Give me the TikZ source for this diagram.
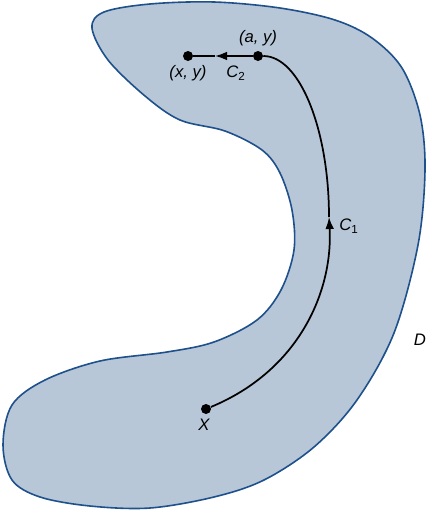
\documentclass[tikz,border=0pt]{standalone}
\usepackage{fontspec}
\setmainfont{Liberation Sans}
\usetikzlibrary{arrows.meta}
\definecolor{regionfill}{RGB}{183,199,216}
\definecolor{regionline}{RGB}{30,80,140}
\tikzset{
	dot/.style={circle, fill=black, inner sep=0pt, minimum size=7.5pt},
	lbl/.style={font=\fontsize{12.5}{14}\selectfont\itshape, inner sep=1pt},
	path/.style={line width=1.3pt},
	tip/.style={-{Latex[length=9pt,width=6.5pt]}}
}
\begin{document}
\begin{tikzpicture}[x=0.75pt, y=-0.75pt]
	\useasboundingbox (0,0) rectangle (428,511);
	\draw[fill=regionfill, draw=regionline, line width=1.2pt] plot[smooth cycle, tension=0.55] coordinates {
		(92,28) (104,12) (150,4) (214,2) (280,8) (335,20) (372,38) (402,68)
		(420,115) (425,170) (418,245) (394,333) (357,400) (314,447)
		(264,480) (214,497) (150,508) (90,506) (40,497) (12,480)
		(3,445) (12,405) (45,380) (100,361) (167,352) (214,342)
		(257,320) (281,290) (294,250) (292,210) (280,173) (262,150)
		(225,131) (180,120) (145,96) (108,60)};

	\node[dot] (X) at (206,409) {};
	\node[dot] (ay) at (258,56) {};
	\node[dot] (xy) at (188,56) {};
	\coordinate (c1) at (329,217);
	\coordinate (c2) at (215,56);

	\draw[path, tip] (X) .. controls (300,370) and (333,290) .. (c1);
	\draw[path] (c1) .. controls (329,130) and (300,56) .. (ay);
	\draw[path, tip] (ay) -- (c2);
	\draw[path] (c2) -- (xy);

	\node[lbl] at (204,425) {X};
	\node[lbl] at (188,73) {(x, y)};
	\node[lbl] at (258,38) {(a, y)};
	\node[lbl] at (236,73) {C\textsubscript{\upshape 2}};
	\node[lbl] at (349,226) {C\textsubscript{\upshape 1}};
	\node[lbl] at (420,340) {D};
\end{tikzpicture}
\end{document}
